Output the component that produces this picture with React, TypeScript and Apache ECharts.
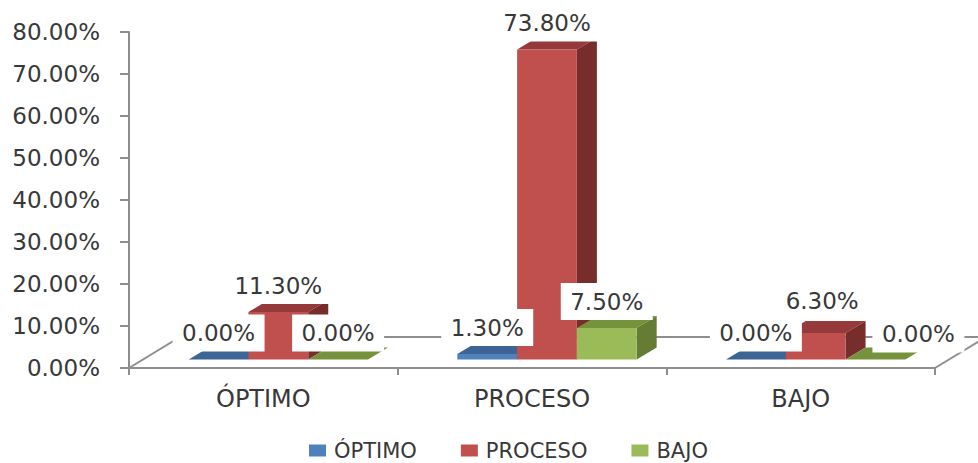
import React, { useEffect, useRef } from "react";
import * as echarts from "echarts";

const categories = ["ÓPTIMO", "PROCESO", "BAJO"];
const seriesNames = ["ÓPTIMO", "PROCESO", "BAJO"];
const optimoValues = [0, 1.3, 0];
const procesoValues = [11.3, 73.8, 6.3];
const bajoValues = [0, 7.5, 0];
const yTicks = { min: 0, max: 80, interval: 10 };

const frontColors = ["#4F81BD", "#C0504D", "#9BBB59"];
const topColors = ["#3C6494", "#95393A", "#76923C"];
const sideColors = ["#2F4F75", "#772D2C", "#647C34"];

const FONT = "'DejaVu Sans', sans-serif";
const TEXT = "#383838";
const GRID_LINE = "#8E8E8E";

function App() {
  const ref = useRef<HTMLDivElement>(null);

  useEffect(() => {
    const chart = echarts.init(ref.current!, undefined, { renderer: "svg" });

    // bar geometry relative to the category band
    const barShare = 0.2225;
    const shiftX = 15;
    const shiftY = -8.5;
    const depthX = 20;
    const depthY = -12;

    const barSeries = (si: number, values: number[]) => ({
      type: "custom",
      name: seriesNames[si],
      z: 3,
      itemStyle: { color: frontColors[si] },
      data: values.map((v, i) => [i, v]),
      encode: { x: 0, y: 1 },
      renderItem: (_: any, api: any) => {
        const top = api.coord([api.value(0), api.value(1)]);
        const base = api.coord([api.value(0), 0]);
        const w = api.size([1, 0])[0] * barShare;
        const x0 = top[0] + shiftX + (si - 1.5) * w;
        const x1 = x0 + w;
        const yt = top[1] + shiftY;
        const yb = base[1] + shiftY;
        const children: any[] = [
          {
            type: "polygon",
            shape: { points: [[x0, yt], [x1, yt], [x1 + depthX, yt + depthY], [x0 + depthX, yt + depthY]] },
            style: { fill: topColors[si] },
          },
          {
            type: "polygon",
            shape: { points: [[x1, yt], [x1 + depthX, yt + depthY], [x1 + depthX, yb + depthY], [x1, yb]] },
            style: { fill: sideColors[si] },
          },
        ];
        if (yb - yt > 0) {
          children.push({
            type: "rect",
            shape: { x: x0, y: yt, width: w, height: yb - yt },
            style: { fill: frontColors[si] },
          });
        }
        return { type: "group", children };
      },
    });

    const labelNudge = (si: number, cat: number) => {
      if (si === 1 && cat === 2) return [6.5, -6];
      if (si === 2 && cat === 2) return [43, 1];
      return [0, 0];
    };

    const labelSeries = (si: number, values: number[]) => ({
      type: "custom",
      name: seriesNames[si] + " labels",
      z: 6,
      silent: true,
      data: values.map((v, i) => [i, v]),
      encode: { x: 0, y: 1 },
      renderItem: (_: any, api: any) => {
        const cat = api.value(0);
        const val = api.value(1);
        const top = api.coord([cat, val]);
        const w = api.size([1, 0])[0] * barShare;
        const [nx, ny] = labelNudge(si, cat);
        const cx = top[0] + shiftX + (si - 1) * w + nx;
        const cy = top[1] + shiftY - 26.5 + ny;
        const text = val.toFixed(2) + "%";
        const boxW = text.length > 5 ? 106 : 92;
        return {
          type: "group",
          children: [
            {
              type: "rect",
              shape: { x: cx - boxW / 2, y: cy - 18.5, width: boxW, height: 37 },
              style: { fill: "#FFFFFF" },
            },
            {
              type: "text",
              style: {
                x: cx,
                y: cy,
                text,
                align: "center",
                verticalAlign: "middle",
                fill: TEXT,
                font: `23px ${FONT}`,
              },
            },
          ],
        };
      },
    });

    const floorSeries = {
      type: "custom",
      name: "floor",
      z: 1,
      silent: true,
      data: [[0, 0]],
      encode: { x: 0, y: 1 },
      renderItem: (params: any) => {
        const c = params.coordSys;
        const bottom = c.y + c.height;
        const right = c.x + c.width;
        const lineStyle = { stroke: GRID_LINE, lineWidth: 2, fill: "none" };
        return {
          type: "group",
          children: [
            {
              type: "polyline",
              shape: { points: [[c.x, bottom], [c.x + 51, bottom - 31], [right + 51, bottom - 31], [right, bottom]] },
              style: lineStyle,
            },
          ],
        };
      },
    };

    chart.setOption({
      animation: false,
      backgroundColor: "#FFFFFF",
      grid: { left: 129, right: 43, top: 32, bottom: 95, containLabel: false },
      legend: {
        show: true,
        left: 309,
        top: 440,
        padding: 0,
        icon: "rect",
        itemWidth: 17,
        itemHeight: 12,
        itemGap: 44,
        data: seriesNames,
        textStyle: {
          fontFamily: FONT,
          fontSize: 21,
          color: TEXT,
          padding: [0, 0, 0, 3],
        },
      },
      xAxis: {
        type: "category",
        data: categories,
        axisLine: { show: true, lineStyle: { color: GRID_LINE, width: 2 } },
        axisTick: { show: true, length: 7, lineStyle: { color: GRID_LINE, width: 2 } },
        axisLabel: { fontFamily: FONT, fontSize: 24, color: TEXT, margin: 19 },
      },
      yAxis: {
        type: "value",
        min: yTicks.min,
        max: yTicks.max,
        interval: yTicks.interval,
        splitLine: { show: false },
        axisLine: { show: true, lineStyle: { color: GRID_LINE, width: 2 } },
        axisTick: { show: true, length: 9, lineStyle: { color: GRID_LINE, width: 2 } },
        axisLabel: {
          fontFamily: FONT,
          fontSize: 23,
          color: TEXT,
          margin: 29,
          formatter: (v: number) => v.toFixed(2) + "%",
        },
      },
      series: [
        floorSeries,
        barSeries(0, optimoValues),
        barSeries(1, procesoValues),
        barSeries(2, bajoValues),
        labelSeries(0, optimoValues),
        labelSeries(1, procesoValues),
        labelSeries(2, bajoValues),
      ],
    });

    return () => chart.dispose();
  }, []);

  return (
    <div
      ref={ref}
      style={{ position: "absolute", left: 0, top: 0, width: 978, height: 463 }}
    />
  );
}

export default App;
